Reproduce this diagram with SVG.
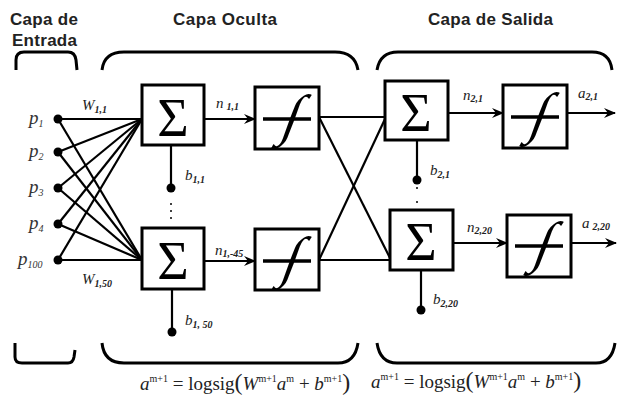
<svg xmlns="http://www.w3.org/2000/svg" width="618" height="396" viewBox="0 0 618 396">
<defs>
<marker id="arr" viewBox="0 0 12 10" refX="11" refY="5" markerWidth="12" markerHeight="10" markerUnits="userSpaceOnUse" orient="auto">
<path d="M0,0 L12,5 L0,10 L4,5 z" fill="#000"/>
</marker>
</defs>
<style>
.title{font-family:"Liberation Sans",Arial,sans-serif;font-weight:bold;font-size:17px;fill:#222}
.box{fill:#fff;stroke:#000;stroke-width:3}
.ln{stroke:#000;stroke-width:2.2;fill:none}
.br{stroke:#000;stroke-width:3;fill:none}
.sig{font-family:"Liberation Serif","Times New Roman",serif;font-size:54px;fill:#000}
.fx{font-family:"Liberation Serif","Times New Roman",serif;font-size:56px;fill:#000}
.lbl{font-family:"Liberation Serif","Times New Roman",serif;font-style:italic;font-size:15px;fill:#222}
.sub{font-size:10px;font-weight:bold}
.inp{font-family:"Liberation Serif","Times New Roman",serif;font-style:italic;font-size:19px;fill:#333}
.fm{font-family:"Liberation Serif","Times New Roman",serif;font-size:19px;fill:#222}
.sup{font-size:10px}
.dot{fill:#000}
</style>

<g id="titles">
<text class="title" x="10" y="25" textLength="68">Capa de</text>
<text class="title" x="12" y="46" textLength="65">Entrada</text>
<text class="title" x="173" y="25" textLength="104">Capa Oculta</text>
<text class="title" x="428" y="25" textLength="125">Capa de Salida</text>
</g>

<g id="brackets">
<path class="br" d="M16,70 L16,60 Q16,52 24,52 L68,52 Q75,52 76,60 L77,70"/>
<path class="br" d="M102,70 Q104,52 124,52 L335,52 Q355,52 358,70"/>
<path class="br" d="M377,70 Q380,52 398,52 L592,52 Q610,52 612,70"/>
<path class="br" d="M15,343 L15,357 Q15,363 22,363 L68,363 Q73,363 74,357 L75,350"/>
<path class="br" d="M102,343 Q104,363 124,363 L338,363 Q355,363 358,343"/>
<path class="br" d="M377,343 Q380,363 397,363 L596,363 Q612,363 615,343"/>
</g>

<g id="connectors">
<line class="ln" x1="58" y1="119" x2="142" y2="119"/>
<line class="ln" x1="58" y1="119" x2="142" y2="260"/>
<line class="ln" x1="58" y1="152" x2="142" y2="119"/>
<line class="ln" x1="58" y1="152" x2="142" y2="260"/>
<line class="ln" x1="58" y1="188" x2="142" y2="119"/>
<line class="ln" x1="58" y1="188" x2="142" y2="260"/>
<line class="ln" x1="58" y1="224" x2="142" y2="119"/>
<line class="ln" x1="58" y1="224" x2="142" y2="260"/>
<line class="ln" x1="58" y1="260" x2="142" y2="119"/>
<line class="ln" x1="58" y1="260" x2="142" y2="260"/>
<line class="ln" x1="204" y1="119" x2="255" y2="119" marker-end="url(#arr)"/>
<line class="ln" x1="204" y1="261" x2="255" y2="261" marker-end="url(#arr)"/>
<line class="ln" x1="319" y1="117" x2="385" y2="117"/>
<line class="ln" x1="319" y1="117" x2="390" y2="258"/>
<line class="ln" x1="319" y1="260" x2="385" y2="119"/>
<line class="ln" x1="319" y1="260" x2="390" y2="260"/>
<line class="ln" x1="448" y1="113" x2="503" y2="113" marker-end="url(#arr)"/>
<line class="ln" x1="567" y1="113" x2="615" y2="113" marker-end="url(#arr)"/>
<line class="ln" x1="453" y1="243" x2="507" y2="243" marker-end="url(#arr)"/>
<line class="ln" x1="571" y1="243" x2="616" y2="243" marker-end="url(#arr)"/>
<line class="ln" x1="171" y1="145" x2="171" y2="188"/>
<line class="ln" x1="172" y1="289" x2="172" y2="332"/>
<line class="ln" x1="417" y1="140" x2="417" y2="180"/>
<line class="ln" x1="421" y1="270" x2="421" y2="310"/>
</g>

<g id="inputs">
<circle class="dot" cx="58" cy="119" r="4.5"/>
<circle class="dot" cx="58" cy="152" r="4.5"/>
<circle class="dot" cx="58" cy="188" r="4.5"/>
<circle class="dot" cx="58" cy="224" r="4.5"/>
<circle class="dot" cx="58" cy="260" r="4.5"/>
<text class="inp" x="29" y="124">p<tspan class="sup" dy="3">1</tspan></text>
<text class="inp" x="29" y="157">p<tspan class="sup" dy="3">2</tspan></text>
<text class="inp" x="29" y="193">p<tspan class="sup" dy="3">3</tspan></text>
<text class="inp" x="29" y="229">p<tspan class="sup" dy="3">4</tspan></text>
<text class="inp" x="18" y="265">p<tspan class="sup" dy="3">100</tspan></text>
<text class="lbl" x="82" y="110">W<tspan class="sub" dy="3">1,1</tspan></text>
<text class="lbl" x="82" y="284">W<tspan class="sub" dy="3">1,50</tspan></text>
</g>

<g id="sum11">
<rect class="box" x="142" y="85" width="62" height="60"/>
<text class="sig" x="173" y="136" text-anchor="middle">Σ</text>
</g>
<g id="bias11">
<circle class="dot" cx="171" cy="188" r="4.5"/>
<circle class="dot" cx="171" cy="204" r="1"/>
<circle class="dot" cx="171" cy="211" r="1"/>
<circle class="dot" cx="171" cy="218" r="1"/>
<text class="lbl" x="185" y="180">b<tspan class="sub" dy="3">1,1</tspan></text>
</g>
<g id="sum150">
<rect class="box" x="142" y="228" width="62" height="61"/>
<text class="sig" x="173" y="279" text-anchor="middle">Σ</text>
</g>
<g id="bias150">
<circle class="dot" cx="172" cy="332" r="4.5"/>
<text class="lbl" x="185" y="325">b<tspan class="sub" dy="3">1, 50</tspan></text>
</g>
<g id="f11">
<rect class="box" x="255" y="87" width="64" height="62"/>
<line x1="263" y1="119" x2="311" y2="119" stroke="#000" stroke-width="3.5"/>
<text class="fx" transform="translate(287,134) skewX(-20)" text-anchor="middle">∫</text>
<text class="lbl" x="216" y="108">n<tspan class="sub" dx="3" dy="2">1,1</tspan></text>
</g>
<g id="f150">
<rect class="box" x="255" y="229" width="64" height="61"/>
<line x1="263" y1="261" x2="311" y2="261" stroke="#000" stroke-width="3.5"/>
<text class="fx" transform="translate(287,276) skewX(-20)" text-anchor="middle">∫</text>
<text class="lbl" x="215" y="255">n<tspan class="sub" dy="2">1,-45</tspan></text>
</g>

<g id="sum21">
<rect class="box" x="385" y="81" width="63" height="59"/>
<text class="sig" x="416" y="131" text-anchor="middle">Σ</text>
</g>
<g id="bias21">
<circle class="dot" cx="417" cy="180" r="4.5"/>
<circle class="dot" cx="417" cy="188" r="1"/>
<circle class="dot" cx="417" cy="202" r="1"/>
<text class="lbl" x="430" y="175">b<tspan class="sub" dy="3">2,1</tspan></text>
</g>
<g id="f21">
<rect class="box" x="503" y="85" width="64" height="63"/>
<line x1="511" y1="117" x2="559" y2="117" stroke="#000" stroke-width="3.5"/>
<text class="fx" transform="translate(535,132) skewX(-20)" text-anchor="middle">∫</text>
<text class="lbl" x="463" y="100">n<tspan class="sub" dy="2">2,1</tspan></text>
<text class="lbl" x="578" y="98">a<tspan class="sub" dy="2">2,1</tspan></text>
</g>
<g id="sum220">
<rect class="box" x="390" y="210" width="63" height="60"/>
<text class="sig" x="421" y="260" text-anchor="middle">Σ</text>
</g>
<g id="bias220">
<circle class="dot" cx="421" cy="310" r="4.5"/>
<text class="lbl" x="433" y="304">b<tspan class="sub" dy="3">2,20</tspan></text>
</g>
<g id="f220">
<rect class="box" x="507" y="215" width="64" height="62"/>
<line x1="515" y1="246" x2="563" y2="246" stroke="#000" stroke-width="3.5"/>
<text class="fx" transform="translate(539,261) skewX(-20)" text-anchor="middle">∫</text>
<text class="lbl" x="467" y="232">n<tspan class="sub" dy="2">2,20</tspan></text>
<text class="lbl" x="582" y="228">a<tspan class="sub" dx="3" dy="2">2,20</tspan></text>
</g>

<g id="formulas">
<text class="fm" x="140" y="390"><tspan font-style="italic">a</tspan><tspan class="sup" dy="-8">m+1</tspan><tspan dy="8"> = logsig</tspan><tspan font-size="24">(</tspan><tspan font-style="italic">W</tspan><tspan class="sup" dy="-8">m+1</tspan><tspan dy="8" font-style="italic">a</tspan><tspan class="sup" dy="-8">m</tspan><tspan dy="8"> + </tspan><tspan font-style="italic">b</tspan><tspan class="sup" dy="-8">m+1</tspan><tspan dy="8" font-size="24">)</tspan></text>
<text class="fm" x="371" y="388"><tspan font-style="italic">a</tspan><tspan class="sup" dy="-8">m+1</tspan><tspan dy="8"> = logsig</tspan><tspan font-size="24">(</tspan><tspan font-style="italic">W</tspan><tspan class="sup" dy="-8">m+1</tspan><tspan dy="8" font-style="italic">a</tspan><tspan class="sup" dy="-8">m</tspan><tspan dy="8"> + </tspan><tspan font-style="italic">b</tspan><tspan class="sup" dy="-8">m+1</tspan><tspan dy="8" font-size="24">)</tspan></text>
</g>
</svg>
